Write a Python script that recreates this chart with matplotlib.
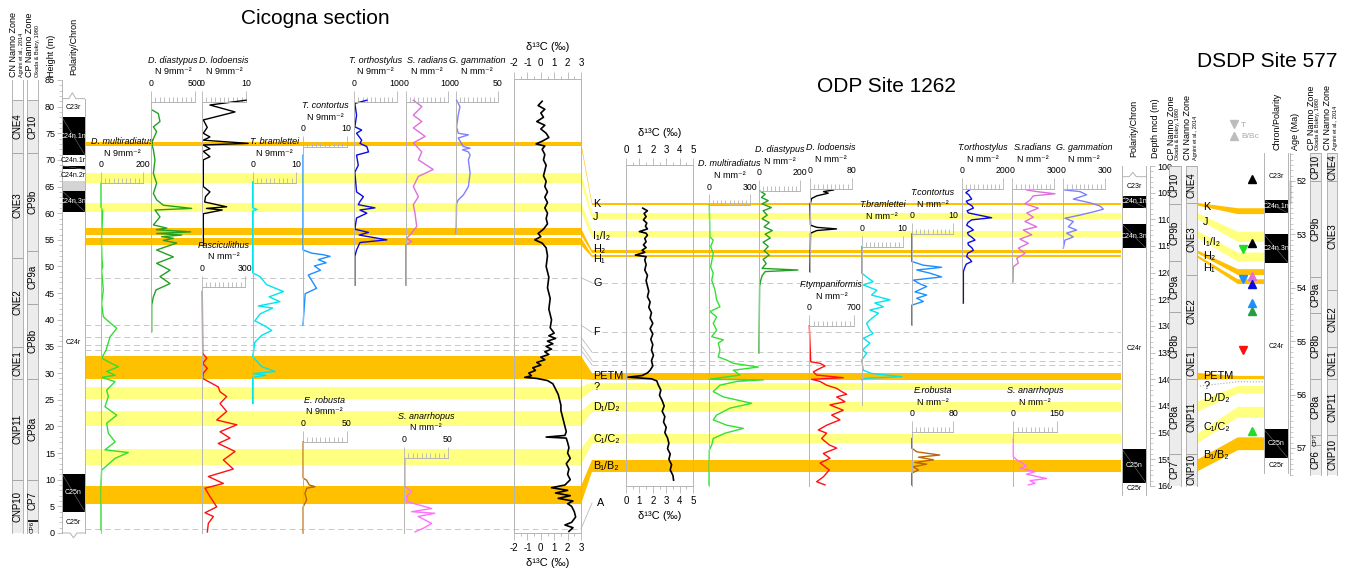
#!/usr/bin/env python3
# -*- coding: utf-8 -*-
# nannofossil abundances and d13C, Cicogna / ODP 1262 / DSDP 577 correlation

import numpy as np
import matplotlib.pyplot as plt
from matplotlib.patches import Polygon
from matplotlib.lines import Line2D
from matplotlib.ticker import MultipleLocator, FixedLocator

plt.rcParams['font.family'] = ['Liberation Sans', 'DejaVu Sans']
plt.rcParams['font.size'] = 6.5
plt.rcParams['axes.unicode_minus'] = False

ORANGE = '#ffc000'
YELLOW = '#ffff80'
GREY = '#b4b4b4'
ZONE = '#ececec'
BAND_COL = {'o': ORANGE, 'y': YELLOW}
FILL = {'w': 'white', 'k': 'black', 'g': '#d4d4d4'}

# ---------------- Cicogna section (height, m) ----------------
cic_cn_names = ['CNE4', 'CNE3', 'CNE2', 'CNE1', 'CNP11', 'CNP10']
cic_cn_bounds = [81.2, 71.3, 51.6, 34.9, 28.9, 10.0, 0.0]
cic_cp_names = ['CP10', 'CP9b', 'CP9a', 'CP8b', 'CP8a', 'CP7', 'CP6']
cic_cp_bounds = [81.2, 71.3, 53.0, 43.0, 28.9, 10.0, 2.3, 0.0]
cic_chron_names = ['C23r', 'C24n.1n', 'C24n.1r', '', 'C24n.2r', '', 'C24n.3n', 'C24r', 'C25n', 'C25r']
cic_chron_bounds = [81.5, 78.0, 70.9, 68.9, 68.2, 66.0, 64.2, 60.3, 11.1, 4.0, 0.0]
cic_chron_fill = ['w', 'k', 'w', 'k', 'w', 'g', 'k', 'w', 'k', 'w']

cic_d13c = [(81.0, 0.1), (80.2, -0.2), (79.5, 0.3), (78.8, 0.0), (78.0, 0.2), (77.2, -0.3), (76.5, 0.3),
            (75.8, 0.0), (75.0, 0.4), (74.2, 0.6), (73.5, 0.1), (73.0, -0.35), (72.6, 0.3), (72.0, 0.1),
            (71.0, 0.3), (70.0, 0.2), (69.0, 0.4), (68.0, 0.3), (67.0, 0.2), (66.0, 0.4), (65.0, 0.3),
            (64.0, 0.5), (63.0, 0.3), (62.0, 0.5), (61.0, 0.3), (60.0, 0.5), (59.0, 0.4), (58.0, 0.5),
            (57.0, 0.2), (56.2, -0.2), (55.6, 0.0), (55.0, -0.45), (54.4, 0.1), (53.5, 0.4), (52.0, 0.5),
            (50.0, 0.4), (48.0, 0.6), (46.0, 0.5), (44.0, 0.7), (42.0, 0.6), (40.0, 0.8), (38.5, 0.7),
            (37.5, 1.0), (37.0, 0.6), (36.5, 1.1), (36.0, 0.5), (35.5, 0.9), (35.0, 0.4), (34.5, 0.8),
            (34.0, 0.3), (33.5, 0.6), (33.0, 0.0), (32.5, 0.3), (32.0, -0.3), (31.5, 0.0), (31.0, -0.6),
            (30.5, -0.4), (30.0, -0.9), (29.5, -0.7), (29.2, -1.2), (29.0, -0.3), (28.6, 0.5), (28.0, 0.9),
            (27.0, 1.1), (26.0, 1.3), (25.0, 1.4), (24.0, 1.5), (23.0, 1.5), (22.0, 1.6), (21.0, 1.7),
            (20.0, 1.8), (19.0, 1.9), (18.3, 1.8), (18.0, 0.4), (17.8, 1.9), (17.0, 2.0), (16.0, 2.1),
            (15.0, 2.0), (14.0, 2.2), (13.0, 1.9), (12.0, 2.1), (11.0, 2.0), (10.0, 2.2), (9.0, 1.8),
            (8.5, 0.8), (8.0, 2.0), (7.5, 1.1), (7.0, 2.2), (6.5, 1.3), (6.0, 2.4), (5.5, 2.0), (5.0, 2.3),
            (4.0, 2.5), (3.0, 2.6), (2.0, 2.3), (1.5, 1.8), (1.0, 2.4), (0.3, 2.1)]
cic_multirad = [(65.6, 0), (61.2, 0), (60.3, 8), (57.5, 5), (55.0, 2), (51.2, 5), (50.0, 8), (49.3, 3),
                (45.6, 11), (43.1, 3), (40.6, 11), (40.0, 27), (38.4, 75), (36.8, 43), (34.3, 24), (32.8, 3),
                (31.8, 51), (31.2, 83), (30.3, 27), (29.6, 67), (29.2, 3), (28.4, 67), (26.8, 27), (25.6, 35),
                (23.7, 19), (22.1, 75), (20.6, 27), (18.7, 35), (17.1, 67), (15.6, 19), (15.1, 130), (14.0, 67),
                (11.8, 3), (9.3, 0), (0.6, 0)]
cic_diast = [(79.4, 8), (78.7, 83), (77.2, 102), (76.2, 27), (75.3, 64), (73.7, 20), (73.1, 8), (71.9, 27),
             (70.0, 45), (67.5, 27), (65.6, 64), (63.7, 27), (62.5, 64), (61.5, 140), (60.9, 462), (60.6, 45),
             (59.3, 102), (57.8, 27), (57.2, 180), (56.9, 60), (56.5, 450), (56.2, 64), (55.9, 350), (55.6, 120),
             (55.3, 254), (54.9, 140), (54.4, 292), (53.1, 64), (51.8, 254), (50.6, 64), (49.3, 216), (48.1, 102),
             (46.8, 216), (45.6, 57), (44.3, 27), (42.8, 8), (37.8, 8)]
cic_lodo = [(81.2, 10), (80.3, 1.8), (79.0, 7.5), (77.5, 0.3), (76.1, 1.2), (75.0, 0.3), (74.3, 1.8), (73.7, 0.3),
            (73.1, 10.5), (72.8, 0.3), (72.1, 1.8), (71.6, 0.3), (70.6, 1.8), (70.0, 0.3), (65.0, 0.3), (64.0, 1.8),
            (63.1, 0.8), (62.1, 0.6), (61.2, 5.6), (60.9, 1.0), (60.6, 4.6), (59.9, 0.3), (54.0, 0.3)]
cic_brame = [(65.9, 0), (61.0, 0), (60.7, 1.0), (60.4, 0), (48.8, 0), (48.1, 1.7), (46.6, 3.2), (45.3, 7.1),
             (44.3, 3.8), (43.4, 6.3), (42.6, 1.3), (42.2, 4.6), (41.1, 1.7), (39.8, 0.5), (38.9, 2.7), (38.0, 4.4),
             (37.1, 2.1), (35.8, 0.5), (33.1, 0), (31.2, 2.1), (30.3, 5.2), (29.9, 0), (29.6, 3.1), (29.2, 0),
             (24.3, 0)]
cic_cont = [(70.9, 0), (53.1, 0), (52.5, 2.0), (52.2, 4.7), (51.9, 6.2), (51.3, 3.5), (50.7, 5.3), (50.1, 2.6),
            (49.3, 4.0), (48.4, 1.2), (47.5, 1.9), (45.9, 3.1), (44.9, 0.5), (39.0, 0)]
cic_ortho = [(81.2, 30), (80.6, 2), (78.4, 6), (76.2, 2), (75.6, 18), (75.0, 6), (73.7, 18), (73.1, 14), (72.5, 30),
             (71.5, 34), (70.9, 6), (69.0, 10), (67.7, 2), (64.0, 6), (63.1, 22), (62.2, 14), (61.6, 10), (61.0, 49),
             (60.6, 14), (60.0, 30), (59.1, 6), (57.0, 2), (56.4, 34), (55.9, 12), (55.0, 77), (54.5, 14), (53.1, 6),
             (51.9, 2), (46.5, 2)]
cic_radians = [(81.2, 18), (80.0, 38), (78.4, 18), (77.2, 38), (76.0, 18), (74.4, 46), (73.2, 18), (71.5, 38),
               (70.0, 30), (68.2, 65), (66.9, 30), (65.0, 18), (63.1, 30), (61.6, 18), (60.0, 22), (57.5, 26),
               (55.9, 10), (55.3, 2), (54.7, 14), (54.0, 0), (46.5, 0)]
cic_gamm = [(81.2, 1), (80.0, 5), (78.4, 3), (76.2, 1), (75.0, 3), (74.7, 15), (74.1, 3), (72.5, 9), (72.2, 17),
            (71.9, 8), (71.5, 15), (70.9, 17), (70.0, 15), (67.5, 17), (65.0, 15), (63.4, 9), (62.5, 3), (61.8, 1),
            (56.2, 0.5)]
cic_fasc = [(45.3, 4), (33.7, 7), (32.8, 35), (31.8, 7), (30.9, 39), (30.0, 11), (29.0, 7), (27.4, 115), (26.5, 127),
            (25.6, 173), (24.3, 127), (22.8, 173), (21.2, 104), (20.3, 243), (19.0, 127), (17.8, 196), (16.8, 115),
            (15.3, 231), (13.7, 150), (12.0, 219), (10.6, 46), (9.3, 150), (8.4, 23), (6.8, 58), (4.9, 104),
            (3.8, 23), (3.1, 81), (1.8, 46), (0.2, 39)]
cic_robusta = [(17.1, 0.5), (10.3, 0.5), (9.9, 4.5), (9.0, 7.5), (8.7, 14), (8.4, 4.5), (7.4, 2.6), (6.2, 4.5),
               (4.9, 0.5), (0.0, 0.5)]
cic_anarr = [(14.0, 1), (8.7, 1), (7.8, 8.7), (6.8, 3), (5.9, 3), (4.6, 31.5), (4.0, 8.7), (3.7, 35), (3.1, 16),
             (1.8, 31.5), (0.9, 22), (0.2, 12.5)]

# ---------------- ODP Site 1262 (depth, mcd) ----------------
odp_cp_names = ['CP10', 'CP9b', 'CP9a', 'CP8b', 'CP8a', 'CP7']
odp_cp_bounds = [100, 107.1, 117.9, 127.3, 140.0, 154.0, 160.0]
odp_cn_names = ['CNE4', 'CNE3', 'CNE2', 'CNE1', 'CNP11', 'CNP10']
odp_cn_bounds = [100, 107.0, 120.4, 134.0, 140.0, 154.0, 160.0]
odp_chron_names = ['C23r', 'C24n.1n', '', 'C24n.3n', 'C24r', 'C25n', 'C25r']
odp_chron_bounds = [102.0, 105.6, 107.9, 110.9, 115.4, 153.1, 159.4, 161.6]
odp_chron_fill = ['w', 'k', 'w', 'k', 'w', 'k', 'w']

odp_d13c = [(107.9, 1.25), (108.4, 1.6), (108.9, 1.35), (109.5, 1.5), (110.1, 1.3), (110.7, 1.55), (111.3, 1.45),
            (111.8, 1.6), (112.3, 1.0), (112.6, 1.5), (113.0, 1.6), (113.6, 1.4), (114.2, 1.5), (114.8, 1.3),
            (115.3, 1.5), (115.8, 1.2), (116.2, 1.4), (116.7, 0.7), (117.0, 1.5), (117.6, 1.4), (118.5, 1.5),
            (119.5, 1.4), (120.5, 1.6), (121.5, 1.5), (122.5, 1.6), (123.5, 1.7), (124.5, 1.6), (125.5, 1.8),
            (126.5, 1.7), (127.5, 1.9), (128.5, 1.8), (129.5, 2.0), (130.5, 1.8), (131.5, 2.0), (132.5, 1.85),
            (133.5, 2.0), (134.5, 1.9), (135.5, 2.05), (136.5, 1.9), (137.5, 2.0), (138.3, 1.8), (138.8, 1.6),
            (139.3, 1.2), (139.6, 0.15), (139.9, 1.9), (140.3, 2.3), (141.0, 2.4), (142.0, 2.6), (143.0, 2.5),
            (144.0, 2.7), (145.0, 2.85), (146.0, 2.7), (147.0, 2.9), (148.0, 2.8), (149.0, 3.0), (150.0, 2.9),
            (151.0, 3.1), (152.0, 3.2), (153.0, 3.1), (154.0, 3.3), (155.0, 3.2), (156.0, 3.4), (157.0, 3.3),
            (158.0, 3.5), (158.9, 3.55)]
odp_multirad = [(107.3, 2), (113.3, 7), (113.9, 31), (115.1, 12), (116.4, 31), (118.9, 12), (120.1, 31), (121.4, 20),
                (123.3, 44), (125.1, 56), (126.4, 80), (127.3, 7), (128.3, 56), (129.5, 31), (130.8, 56), (132.0, 20),
                (132.6, 105), (133.2, 68), (134.5, 80), (135.8, 68), (136.4, 129), (137.0, 178), (137.7, 361),
                (138.3, 178), (139.2, 227), (140.0, 0), (140.1, 398), (140.4, 203), (141.1, 80), (142.3, 31),
                (143.3, 105), (144.5, 312), (145.4, 154), (146.7, 56), (147.6, 31), (148.6, 129), (149.2, 251),
                (150.1, 117), (151.1, 31), (152.3, 20), (153.3, 2), (159.8, 0)]
odp_diast = [(104.7, 5), (105.3, 30), (105.9, 12), (106.5, 45), (107.1, 15), (107.8, 60), (108.4, 20), (109.2, 40),
             (109.9, 15), (110.6, 50), (111.4, 25), (112.1, 65), (112.8, 30), (113.5, 55), (114.3, 20), (115.1, 45),
             (115.9, 25), (116.7, 50), (117.5, 20), (118.3, 35), (119.2, 15), (119.5, 190), (119.8, 30), (120.6, 15),
             (121.5, 8), (122.5, 3), (135.0, 0)]
odp_lodo = [(104.5, 45), (104.8, 26), (105.1, 35), (105.6, 13), (106.1, 3), (107.3, 0), (111.1, 1), (111.5, 13),
            (111.8, 51), (112.1, 13), (112.6, 1), (119.8, 0)]
odp_ftymp = [(130.0, 0), (136.7, 22), (137.0, 168), (137.5, 246), (138.1, 141), (138.6, 63), (139.2, 115),
             (139.7, 532), (140.0, 37), (140.4, 168), (141.1, 272), (141.7, 429), (142.3, 507), (142.8, 585),
             (143.3, 429), (144.2, 559), (144.8, 324), (145.8, 532), (146.7, 350), (147.6, 480), (148.6, 272),
             (149.5, 141), (150.1, 272), (151.1, 193), (152.3, 313), (152.9, 429), (153.9, 219), (154.8, 324),
             (155.7, 168), (157.0, 313), (158.3, 219), (159.2, 115), (159.8, 246)]
odp_brame = [(115.1, 0), (120.1, 0), (120.8, 1.2), (121.7, 2.8), (122.3, 0.4), (123.3, 3.7), (124.2, 2.4),
             (125.1, 6.9), (125.7, 3.2), (126.4, 5.3), (127.0, 2.0), (127.6, 4.1), (128.6, 2.4), (129.5, 1.2),
             (130.8, 2.0), (131.4, 2.8), (132.3, 0.4), (133.2, 2.0), (134.5, 0.2), (135.1, 1.2), (136.4, 0.0),
             (138.3, 0.4), (138.9, 2.4), (139.5, 9.8), (139.8, 1.2), (140.1, 0)]
odp_cont = [(112.75, 0), (117.9, 0), (118.6, 2.8), (119.0, 7.2), (119.5, 1.2), (120.1, 4.4), (120.8, 7.2),
            (121.4, 0.4), (122.1, 2.0), (122.6, 3.6), (123.6, 0.8), (124.2, 3.6), (124.8, 1.2), (125.4, 2.8),
            (126.1, 0), (129.8, 0)]
odp_ortho = [(104.5, 37), (105.0, 20), (105.4, 34), (106.2, 48), (106.6, 22), (107.0, 29), (107.5, 50), (107.9, 56),
             (108.4, 26), (108.8, 32), (109.7, 144), (110.1, 48), (110.6, 30), (111.1, 24), (111.6, 44), (112.0, 56),
             (112.5, 28), (112.9, 32), (113.4, 50), (113.9, 64), (114.4, 30), (114.8, 32), (115.3, 48), (115.8, 56),
             (116.4, 28), (117.0, 24), (117.5, 40), (117.9, 48), (118.4, 22), (118.9, 16), (119.8, 8), (125.7, 8)]
odp_radians = [(104.5, 104), (104.8, 176), (105.2, 307), (105.6, 151), (106.4, 127), (107.1, 91), (107.9, 187),
               (108.8, 104), (109.6, 151), (110.4, 91), (111.4, 176), (112.0, 79), (112.9, 140), (113.7, 55),
               (114.5, 115), (115.4, 43), (116.4, 91), (117.3, 32), (118.2, 43), (118.9, 7), (121.7, 5)]
odp_gamm = [(104.5, 12), (104.8, 120), (105.4, 168), (106.2, 72), (106.9, 192), (107.5, 264), (108.1, 288),
            (108.6, 216), (109.2, 120), (109.8, 12), (110.4, 72), (111.4, 36), (112.0, 96), (112.6, 24), (113.3, 72),
            (113.9, 12), (115.4, 0)]
odp_robusta = [(151.1, 0), (152.9, 0), (153.6, 10), (154.2, 54), (154.6, 13), (155.1, 42), (155.6, 6), (155.9, 29),
               (156.4, 3), (157.0, 13), (157.6, 0), (159.8, 0)]
odp_anarr = [(151.1, 0), (154.5, 0), (155.1, 12), (156.2, 46), (156.7, 23), (157.3, 75), (157.8, 46), (158.6, 115),
             (159.0, 58), (159.5, 75), (159.8, 52)]

# ---------------- DSDP Site 577 (age, Ma) ----------------
dsdp_cp_names = ['CP10', 'CP9b', 'CP9a', 'CP8b', 'CP8a', 'CP7', 'CP6']
dsdp_cp_bounds = [51.48, 52.0, 53.8, 54.47, 55.71, 56.76, 56.94, 57.5]
dsdp_cn_names = ['CNE4', 'CNE3', 'CNE2', 'CNE1', 'CNP11', 'CNP10']
dsdp_cn_bounds = [51.48, 52.0, 54.05, 55.11, 55.71, 56.76, 57.5]
dsdp_chron_names = ['C23r', 'C24n.1n', '', 'C24n.3n', 'C24r', 'C25n', 'C25r']
dsdp_chron_bounds = [51.48, 52.36, 52.6, 53.0, 53.53, 56.65, 57.19, 57.47]
dsdp_chron_fill = ['w', 'k', 'w', 'k', 'w', 'k', 'w']
event_age = [51.97, 53.17, 53.28, 53.84, 53.78, 53.93, 54.28, 54.43, 55.16, 56.69]
event_kind = ['B', 'B', 'T', 'T', 'B', 'B', 'B', 'B', 'T', 'B']
event_color = ['black', 'black', '#22dd22', '#1e8fff', '#dd70dd', '#0a0ae0', '#1e8fff', '#22a040', '#ff1010',
               '#22dd22']

# ---------------- correlation levels ----------------
band_names = ['K', 'J', 'I₁/I₂', 'H₂', 'H₁', 'PETM', '?', 'D₁/D₂', 'C₁/C₂', 'B₁/B₂']
band_kind = ['o', 'y', 'y', 'o', 'o', 'o', 'y', 'y', 'y', 'o']
band_cic = [(72.7, 73.4), (65.6, 67.5), (60.3, 62.0), (55.9, 57.2), (54.0, 55.4), (28.9, 33.2), (25.1, 27.4),
            (20.1, 22.8), (12.8, 15.8), (5.4, 8.8)]
band_odp = [(106.9, 107.4), (108.8, 109.9), (112.1, 113.4), (115.8, 116.3), (116.7, 117.1), (138.8, 140.1),
            (140.6, 142.0), (144.2, 146.1), (150.3, 152.0), (155.1, 157.3)]
band_dsdp = [(52.51, 52.62), (52.95, 53.14), (53.34, 53.51), (53.65, 53.76), (53.84, 53.93), (55.65, 55.71),
             None, (55.84, 55.98), (56.23, 56.43), (56.8, 57.04)]
odp_label_depth = [107.1, 109.6, 113.2, 115.6, 117.5, 139.4, 141.4, 145.2, 151.2, 156.3]
dsdp_label_age = [52.49, 52.77, 53.14, 53.4, 53.62, 55.65, 55.84, 56.06, 56.61, 57.13]
tie_names = ['G', 'F', '', '', '', 'A']
tie_cic = [47.9, 39.0, 36.7, 35.3, 34.3, 0.75]
tie_odp = [121.9, 131.2, 134.9, 136.5, 137.3, 163.2]

W, H = 1352, 572
fig = plt.figure(figsize=(W / 100, H / 100), dpi=100)


# pixel rows of the three depth scales
def cic_y(h):
    return 533 - 5.33 * h


def odp_y(d):
    return 166 + 5.333 * (d - 100)


def dsdp_y(a):
    return 181 + 53.4 * (a - 52)


def sec_ax(x0, x1, ymap, top, bot, z=2):
    y0, y1 = ymap(top), ymap(bot)
    ax = fig.add_axes([x0 / W, 1 - y1 / H, (x1 - x0) / W, (y1 - y0) / H])
    ax.set_ylim(bot, top)
    ax.patch.set_alpha(0)
    ax.set_zorder(z)
    return ax


def frame(ax, sides=('left', 'right')):
    for s in ('left', 'right', 'top', 'bottom'):
        ax.spines[s].set_visible(s in sides)
        ax.spines[s].set_color(GREY)
        ax.spines[s].set_linewidth(0.7)
    ax.set_xticks([])
    ax.set_yticks([])


def zone_col(x0, x1, ymap, top, bot, names, bounds):
    ax = sec_ax(x0, x1, ymap, top, bot)
    ax.set_xlim(0, 1)
    frame(ax)
    for name, b0, b1 in zip(names, bounds[:-1], bounds[1:]):
        ax.axhspan(b0, b1, facecolor=ZONE, edgecolor='#a0a0a0', lw=0.6)
        span = abs(ymap(b0) - ymap(b1))
        ax.text(0.5, (b0 + b1) / 2, name, rotation=90, ha='center', va='center',
                fontsize=7 if span > 20 else 4.5)
    return ax


def chron_col(x0, x1, ymap, top, bot, names, bounds, fills):
    ax = sec_ax(x0, x1, ymap, top, bot)
    ax.set_xlim(0, 1)
    frame(ax)
    for name, b0, b1, f in zip(names, bounds[:-1], bounds[1:], fills):
        ax.axhspan(b0, b1, facecolor=FILL[f], edgecolor='none')
        if f == 'k':
            ax.plot([0, 1], [b0, b1], color='#707070', lw=0.4)
        if name:
            ax.text(0.5, (b0 + b1) / 2, name, ha='center', va='center', fontsize=5,
                    color='white' if f == 'k' else 'black')
    return ax


def species(x0, x1, ymap, top, bot, vmax, name, unit, series, color):
    ax = sec_ax(x0, x1, ymap, top, bot)
    ax.set_xlim(0, vmax)
    frame(ax, sides=('left', 'top'))
    ax.xaxis.tick_top()
    ax.xaxis.set_major_locator(FixedLocator([0, vmax]))
    ax.xaxis.set_minor_locator(FixedLocator(list(np.linspace(0, vmax, 11)[1:-1])))
    ax.set_xticklabels(['0', str(vmax)])
    ax.tick_params(axis='x', which='major', length=8, width=0.6, color=GREY, pad=2, labelsize=6.3)
    ax.tick_params(axis='x', which='minor', length=3.5, width=0.6, color=GREY)
    d, v = zip(*series)
    ax.plot(v, d, color=color, lw=1.0, clip_on=False)
    ax.annotate(name, (0.5, 1), xycoords='axes fraction', xytext=(0, 30), textcoords='offset points',
                ha='center', va='center', style='italic', fontsize=6.5)
    ax.annotate(unit, (0.5, 1), xycoords='axes fraction', xytext=(0, 21.5), textcoords='offset points',
                ha='center', va='center', fontsize=6.5)
    return ax


def d13c_panel(x0, x1, ymap, top, bot, lim, series):
    ax = sec_ax(x0, x1, ymap, top, bot)
    ax.set_xlim(*lim)
    frame(ax, sides=('left', 'right', 'top', 'bottom'))
    ax.xaxis.set_major_locator(MultipleLocator(1))
    ax.xaxis.set_minor_locator(MultipleLocator(0.5))
    ax.tick_params(axis='x', which='both', top=True, bottom=True, labeltop=True, labelbottom=True,
                   color=GREY, width=0.6)
    ax.tick_params(axis='x', which='major', length=5, pad=2.5, labelsize=7)
    ax.tick_params(axis='x', which='minor', length=2.5)
    d, v = zip(*series)
    ax.plot(v, d, color='black', lw=1.2)
    ax.annotate('δ¹³C (‰)', (0.5, 1), xycoords='axes fraction', xytext=(0, 23), textcoords='offset points',
                ha='center', va='center', fontsize=8)
    ax.set_xlabel('δ¹³C (‰)', fontsize=8, labelpad=3)
    return ax


def fig_pt(ax, x, y):
    return fig.transFigure.inverted().transform(ax.transData.transform((x, y)))


def vlabel(x, y, s, size=6.5):
    fig.text(x / W, 1 - y / H, s, rotation=90, ha='center', va='bottom', fontsize=size)


# ================= band backgrounds =================
cic_bg = sec_ax(85, 581, cic_y, 85, 0, z=0)
cic_bg.set_xlim(0, 1)
cic_bg.axis('off')
odp_bg = sec_ax(592, 1121, odp_y, 100, 160, z=0)
odp_bg.set_xlim(0, 1)
odp_bg.axis('off')

for (lo, hi), k in zip(band_cic, band_kind):
    cic_bg.axhspan(lo, hi, color=BAND_COL[k], lw=0)
for (t, b), k, name, ld in zip(band_odp, band_kind, band_names, odp_label_depth):
    odp_bg.axhspan(t, b, color=BAND_COL[k], lw=0)
    odp_bg.text(0.002, ld, name, ha='left', va='center', fontsize=7.8, zorder=5)
for (lo, hi), (t, b), k in zip(band_cic, band_odp, band_kind):
    pts = [fig_pt(cic_bg, 1, hi), fig_pt(odp_bg, 0, t), fig_pt(odp_bg, 0, b), fig_pt(cic_bg, 1, lo)]
    fig.add_artist(Polygon(pts, closed=True, transform=fig.transFigure, facecolor=BAND_COL[k], edgecolor='none'))

for name, hc, dd in zip(tie_names, tie_cic, tie_odp):
    cic_bg.axhline(hc, color='#c8c8c8', lw=0.7, ls=(0, (6, 4)))
    if dd < 160:
        odp_bg.axhline(dd, color='#c8c8c8', lw=0.7, ls=(0, (6, 4)))
    p0, p1 = fig_pt(cic_bg, 1, hc), fig_pt(odp_bg, 0, dd)
    fig.add_artist(Line2D([p0[0], p1[0]], [p0[1], p1[1]], transform=fig.transFigure, color='#bdbdbd', lw=0.6))
    if name:
        odp_bg.text(0.002 if name != 'A' else 0.01, dd, name, ha='left', va='center', fontsize=7.8)

# ================= Cicogna columns =================
zone_col(12, 23, cic_y, 85, 0, cic_cn_names, cic_cn_bounds)
cp = zone_col(27, 38, cic_y, 85, 0, cic_cp_names, cic_cp_bounds)
cp.axhline(2.3, color='black', lw=1.2)
pol = chron_col(62, 85, cic_y, 85, 0, cic_chron_names, cic_chron_bounds, cic_chron_fill)
pol.spines['right'].set_bounds(0, 81.5)
pol.plot([0, 0.3, 0.45, 0.6, 1], [81.5, 81.5, 82.6, 81.5, 81.5], color=GREY, lw=0.7)
pol.plot([0, 0.35, 0.5, 0.65, 1], [0, 0, -0.9, 0, 0], color=GREY, lw=0.7, clip_on=False)
pol.yaxis.set_major_locator(MultipleLocator(5))
pol.yaxis.set_minor_locator(MultipleLocator(1))
pol.tick_params(axis='y', which='major', length=3.5, width=0.6, color=GREY, labelsize=6.5, pad=1.5)
pol.tick_params(axis='y', which='minor', length=2, width=0.5, color=GREY)

vlabel(14, 77, 'CN Nanno Zone')
vlabel(21, 77, 'Agnini et al., 2014', 4)
vlabel(30, 77, 'CP Nanno Zone')
vlabel(37, 77, 'Okada & Bukry, 1980', 4)
vlabel(51, 77, 'Height (m)')
vlabel(74, 75, 'Polarity/Chron')

# ================= Cicogna curves =================
N9 = 'N 9mm⁻²'
N1 = 'N mm⁻²'
species(101, 143, cic_y, 65.6, 0, 200, 'D. multiradiatus', N9, cic_multirad, '#33dd33')
species(151, 195, cic_y, 80.9, 37.8, 500, 'D. diastypus', N9, cic_diast, '#22a022')
species(202, 246, cic_y, 80.9, 54.0, 10, 'D. lodoensis', N9, cic_lodo, 'black')
species(252.7, 296, cic_y, 65.6, 24.3, 10, 'T. bramlettei', N9, cic_brame, '#00e5ee')
species(303, 346.7, cic_y, 72.4, 39.0, 10, 'T. contortus', N9, cic_cont, '#1e8fff')
species(354, 396.7, cic_y, 80.9, 46.5, 100, 'T. orthostylus', N9, cic_ortho, '#0a0ae0')
species(405.7, 448, cic_y, 80.9, 46.5, 100, 'S. radians', N1, cic_radians, '#dd70dd')
species(455.7, 498, cic_y, 80.9, 56.2, 50, 'G. gammation', N1, cic_gamm, '#8080ff')
species(201.7, 245, cic_y, 46.2, 0, 300, 'Fasciculithus', N1, cic_fasc, '#ff1010')
species(302.7, 346.7, cic_y, 17.1, 0, 50, 'E. robusta', N9, cic_robusta, '#b8660c')
species(404, 448, cic_y, 14.1, 0, 50, 'S. anarrhopus', N1, cic_anarr, '#ff70ff')
d13c_panel(514, 581, cic_y, 85.2, 0, (-2, 3), cic_d13c)

# ================= ODP curves =================
d13c_panel(626, 693, odp_y, 99.8, 160, (0, 5), odp_d13c)
species(709, 750, odp_y, 107.4, 160, 300, 'D. multiradiatus', N1, odp_multirad, '#33e033')
species(759, 800, odp_y, 104.7, 135, 200, 'D. diastypus', N1, odp_diast, '#22a022')
species(810, 851.7, odp_y, 104.3, 119.8, 80, 'D. lodoensis', N1, odp_lodo, 'black')
species(809.3, 854, odp_y, 130, 160, 700, 'F.tympaniformis', N1, odp_ftymp, '#ff1010')
species(861.7, 902.7, odp_y, 115.1, 144.8, 10, 'T.bramlettei', N1, odp_brame, '#00e5ee')
species(911.7, 953.3, odp_y, 112.75, 129.8, 10, 'T.contortus', N1, odp_cont, '#1e8fff')
species(961.7, 1003.3, odp_y, 104.3, 125.7, 200, 'T.orthostylus', N1, odp_ortho, '#0a0ae0')
species(1012.3, 1054, odp_y, 104.3, 121.7, 300, 'S.radians', N1, odp_radians, '#dd70dd')
species(1063.3, 1105, odp_y, 104.3, 115.4, 300, 'G. gammation', N1, odp_gamm, '#8080ff')
species(911.7, 953.3, odp_y, 149.9, 160, 80, 'E.robusta', N1, odp_robusta, '#b8660c')
species(1013.3, 1056.7, odp_y, 149.9, 160, 150, 'S. anarrhopus', N1, odp_anarr, '#ff70ff')

# ================= ODP columns =================
opol = chron_col(1122, 1146, odp_y, 100, 161.6, odp_chron_names, odp_chron_bounds, odp_chron_fill)
opol.plot([0, 0.3, 0.45, 0.6, 1], [102.0, 102.0, 101.2, 102.0, 102.0], color=GREY, lw=0.7)
dep = sec_ax(1149, 1150, odp_y, 100, 160)
frame(dep, sides=('right',))
dep.yaxis.tick_right()
dep.yaxis.set_major_locator(MultipleLocator(5))
dep.yaxis.set_minor_locator(MultipleLocator(1))
dep.tick_params(axis='y', which='major', length=3.5, width=0.6, color=GREY, labelsize=6.5, pad=1.5)
dep.tick_params(axis='y', which='minor', length=2, width=0.5, color=GREY)
zone_col(1169, 1181, odp_y, 100, 160, odp_cp_names, odp_cp_bounds)
zone_col(1186, 1197, odp_y, 100, 160, odp_cn_names, odp_cn_bounds)
vlabel(1134, 157, 'Polarity/Chron')
vlabel(1156, 158, 'Depth mcd (m)')
vlabel(1171, 160, 'CP Nanno Zone')
vlabel(1178, 160, 'Okada & Bukry, 1980', 4)
vlabel(1187, 160, 'CN Nanno Zone')
vlabel(1195, 160, 'Agnini et al., 2014', 4)

# ================= DSDP 577 =================
corr = sec_ax(1197, 1264, dsdp_y, 51.48, 57.6, z=1)
corr.set_xlim(0, 1)
corr.axis('off')


def odp_to_corr(d):
    return corr.transData.inverted().transform(odp_bg.transData.transform((0, d)))[1]


for (t, b), ages, k, name, la in zip(band_odp, band_dsdp, band_kind, band_names, dsdp_label_age):
    if ages is None:
        corr.plot([0, 0.61, 1], [odp_to_corr((t + b) / 2), 55.76, 55.76], color='#aaaaaa', lw=0.8, ls=':')
    else:
        pts = [(0, odp_to_corr(t)), (0.61, ages[0]), (1, ages[0]), (1, ages[1]), (0.61, ages[1]),
               (0, odp_to_corr(b))]
        corr.add_patch(Polygon(pts, closed=True, facecolor=BAND_COL[k], edgecolor='none'))
    corr.text(0.09, la, name, ha='left', va='center', fontsize=7.8, zorder=5)

for a, kind, c in zip(event_age, event_kind, event_color):
    corr.plot(0.69 if kind == 'T' else 0.82, a, ls='none', marker='v' if kind == 'T' else '^',
              color=c, ms=6, zorder=6)

handles = [Line2D([], [], ls='none', marker='v', color='#bdbdbd', ms=6),
           Line2D([], [], ls='none', marker='^', color='#bdbdbd', ms=6)]
fig.legend(handles, ['T', 'B/Bc'], loc='upper left', bbox_to_anchor=(1231 / W, 1 - 121 / H), frameon=False,
           fontsize=6, labelcolor='#aaaaaa', handlelength=0.8, handletextpad=0.4, labelspacing=0.45,
           borderpad=0, borderaxespad=0)

chron_col(1264, 1288, dsdp_y, 51.48, 57.47, dsdp_chron_names, dsdp_chron_bounds, dsdp_chron_fill)
age = sec_ax(1289, 1290, dsdp_y, 51.48, 57.5)
frame(age, sides=('right',))
age.yaxis.tick_right()
age.yaxis.set_major_locator(MultipleLocator(1))
age.yaxis.set_minor_locator(MultipleLocator(0.1))
age.tick_params(axis='y', which='major', length=3.5, width=0.6, color=GREY, labelsize=6.5, pad=1.5)
age.tick_params(axis='y', which='minor', length=2, width=0.5, color=GREY)
age.plot([1, 1], [52.0, 52.42], transform=age.get_yaxis_transform(), color='red', lw=1.0, clip_on=False)
zone_col(1310, 1321, dsdp_y, 51.48, 57.5, dsdp_cp_names, dsdp_cp_bounds)
zone_col(1327, 1337, dsdp_y, 51.48, 57.5, dsdp_cn_names, dsdp_cn_bounds)
vlabel(1277, 150, 'Chron/Polarity')
vlabel(1295, 150, 'Age (Ma)')
vlabel(1311, 150, 'CP Nanno Zone')
vlabel(1318, 150, 'Okada & Bukry, 1980', 4)
vlabel(1328, 150, 'CN Nanno Zone')
vlabel(1335, 150, 'Agnini et al., 2014', 4)

# ================= titles =================
fig.text(315 / W, 1 - 18 / H, 'Cicogna section', ha='center', va='center', fontsize=15)
fig.text(886 / W, 1 - 86 / H, 'ODP Site 1262', ha='center', va='center', fontsize=15)
fig.text(1267 / W, 1 - 62 / H, 'DSDP Site 577', ha='center', va='center', fontsize=15)

fig.savefig('out.png', dpi=100)
